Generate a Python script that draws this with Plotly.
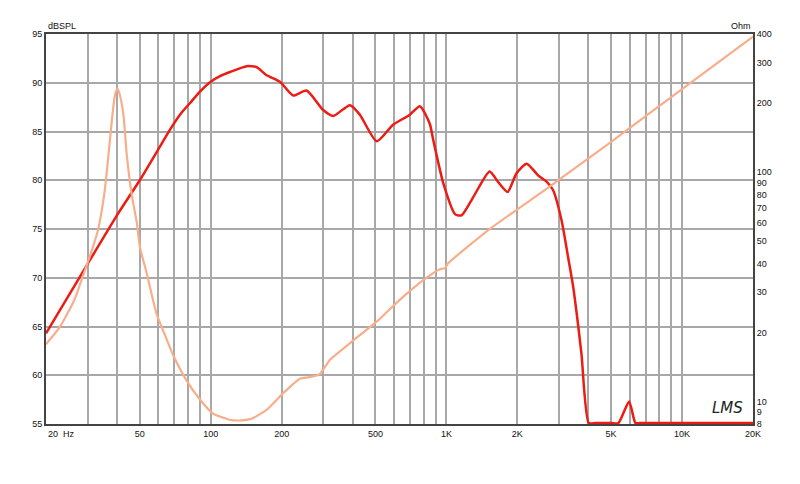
import plotly.graph_objects as go
import math

# SPL response (dB SPL, left axis)
spl_freq = [20, 30, 40, 50, 60, 67.2, 75, 81.6, 90, 100, 110, 120.8, 142, 156.6, 172, 196.7, 224, 255, 300, 331,
            390, 430, 506, 594, 698, 772, 850, 880, 970, 1090, 1160, 1302, 1526, 1660, 1820, 1982,
            2190, 2450, 2660, 2835, 3080, 3290, 3450, 3740, 4020, 4300, 5000, 5370, 5960, 6340, 6600,
            7000, 10000, 20000]
spl_db = [64.3, 71.4, 76.4, 80.0, 83.2, 85.2, 86.9, 87.9, 89.1, 90.1, 90.7, 91.1, 91.7, 91.6, 90.8, 90.1, 88.7, 89.2, 87.2, 86.6,
          87.7, 86.7, 84.0, 85.7, 86.7, 87.6, 85.8, 84.1, 79.7, 76.5, 76.4, 78.3, 80.9, 79.8, 78.8, 80.7,
          81.7, 80.5, 79.85, 79.0, 75.9, 72.0, 69.1, 62.25, 55.1, 55.1, 55.1, 55.1, 57.3, 55.1, 55.1,
          55.1, 55.1, 55.1]

# Impedance (Ohm, right axis)
imp_freq = [20, 22.9, 26.4, 28.6, 30.7, 33.1, 34.4, 35.6, 36.8, 38.0, 39.1, 40.1, 41.1, 42.6, 44.0, 46.2,
            48.6, 50.1, 53.5, 58.8, 64, 69.4, 78.9, 90.2, 102, 124, 147, 172, 203, 239, 262, 290, 320,
            390, 517, 634, 798, 940, 986, 1018, 1526, 2740, 4920, 10000, 20000]
imp_ohm = [17.8, 21.2, 27.8, 35, 43, 55, 67, 85, 118, 165, 212, 232, 218, 178, 120, 80,
           60, 47, 36.3, 24.3, 19.5, 15.9, 12.4, 10.2, 8.9, 8.3, 8.4, 9.2, 10.9, 12.6, 12.8, 13.2, 15.2,
           18, 22.8, 27.8, 33.9, 37.8, 38.2, 40.1, 56.5, 86.5, 134, 230, 390]

x_grid = [20, 30, 40, 50, 60, 70, 80, 90, 100, 200, 300, 400, 500, 600, 700, 800, 900,
          1000, 2000, 3000, 4000, 5000, 6000, 7000, 8000, 9000, 10000, 20000]
x_labels = {50: "50", 100: "100", 200: "200", 500: "500", 1000: "1K", 2000: "2K",
            5000: "5K", 10000: "10K", 20000: "20K"}
y_ticks = [55, 60, 65, 70, 75, 80, 85, 90, 95]
z_ticks = [8, 9, 10, 20, 30, 40, 50, 60, 70, 80, 90, 100, 200, 300, 400]

FONT = "Arial, Liberation Sans, sans-serif"
GRID = "#a8a8a8"
AXIS = "#444444"
TXT = "#111111"

fig = go.Figure()
fig.add_trace(go.Scatter(x=imp_freq, y=imp_ohm, yaxis="y2", mode="lines",
                         line=dict(color="#f8ad8b", width=2.2, shape="spline", smoothing=0.6),
                         hoverinfo="skip"))
fig.add_trace(go.Scatter(x=spl_freq, y=spl_db, mode="lines",
                         line=dict(color="#ec1c15", width=2.5, shape="spline", smoothing=0.6),
                         hoverinfo="skip"))

# page body has an 8px margin: figure is 792x476 so plot area lands at x 46..753, y 34..424
fig.update_layout(
    width=792, height=476,
    margin=dict(l=38, r=47, t=26, b=60),
    paper_bgcolor="white", plot_bgcolor="white",
    showlegend=False,
    font=dict(family=FONT, size=9, color=TXT),
    xaxis=dict(type="log", range=[math.log10(20), math.log10(20000)],
               tickmode="array", tickvals=x_grid,
               ticktext=[x_labels.get(v, "") for v in x_grid],
               showgrid=True, gridcolor=GRID, gridwidth=2,
               showline=True, linecolor=AXIS, linewidth=2, mirror=True,
               ticks="", zeroline=False, layer="below traces",
               tickfont=dict(family=FONT, size=9, color=TXT)),
    yaxis=dict(range=[55, 95], tickmode="array", tickvals=y_ticks,
               showgrid=True, gridcolor=GRID, gridwidth=2,
               showline=True, linecolor=AXIS, linewidth=2,
               ticks="", zeroline=False, layer="below traces",
               tickfont=dict(family=FONT, size=9, color=TXT)),
    yaxis2=dict(type="log", range=[math.log10(8), math.log10(400)], overlaying="y", side="right",
                tickmode="array", tickvals=z_ticks, ticktext=[str(v) for v in z_ticks],
                showgrid=False, showline=True, linecolor=AXIS, linewidth=2,
                ticks="", zeroline=False, layer="below traces",
                tickfont=dict(family=FONT, size=9, color=TXT)),
)

fig.add_annotation(text="dBSPL", xref="paper", yref="paper", x=0, y=1, xanchor="left", yanchor="bottom",
                   yshift=1, showarrow=False, font=dict(family=FONT, size=9, color=TXT))
fig.add_annotation(text="Ohm", xref="paper", yref="paper", x=1, y=1, xanchor="right", yanchor="bottom",
                   yshift=1, showarrow=False, font=dict(family=FONT, size=9, color=TXT))
fig.add_annotation(text="20&nbsp;&nbsp;Hz", xref="paper", yref="paper", x=0, y=0, xanchor="left", yanchor="top",
                   yshift=-3, showarrow=False, font=dict(family=FONT, size=9, color=TXT))
fig.add_annotation(text="<i>LMS</i>", xref="paper", yref="paper", x=0.9887, y=0.014, xanchor="right",
                   yanchor="bottom", showarrow=False,
                   font=dict(family="DejaVu Sans, sans-serif", size=15, color="#222"))

fig.write_html("out.html")
